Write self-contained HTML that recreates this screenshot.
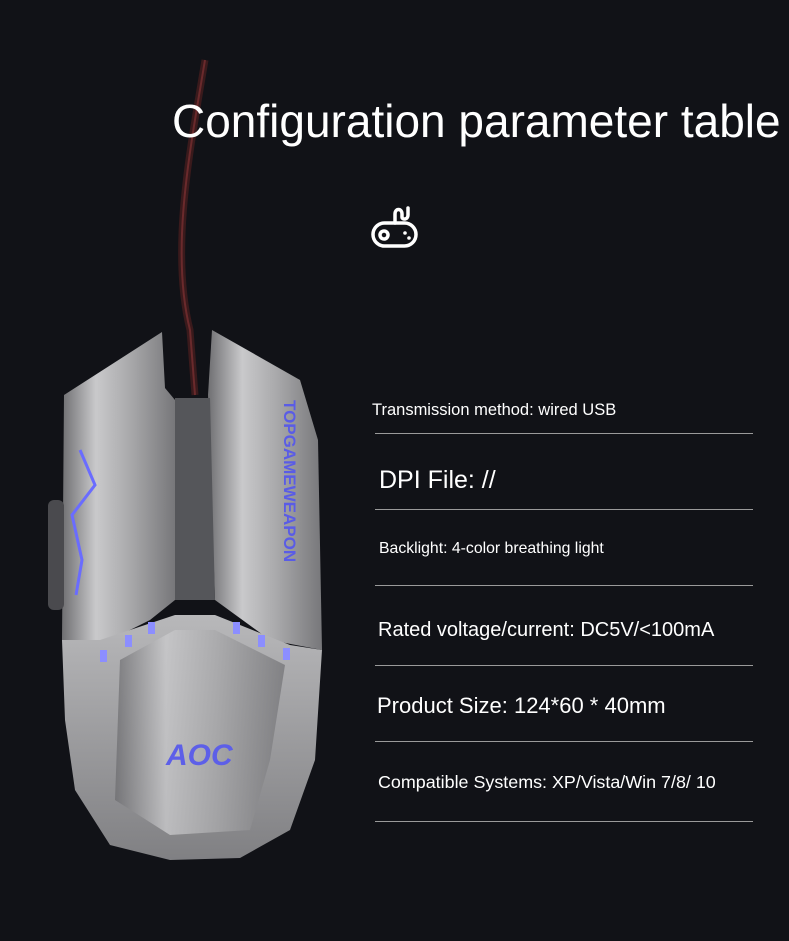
<!DOCTYPE html>
<html><head><meta charset="utf-8"><style>
body{margin:0;width:789px;height:941px;background:#111217;overflow:hidden;position:relative;font-family:"Liberation Sans",sans-serif;color:#fff}
.t{position:absolute;white-space:nowrap;line-height:1}
.l{position:absolute;left:375px;width:378px;height:1px;background:#9a9a9a}
</style></head><body>
<svg width="789" height="941" style="position:absolute;left:0;top:0">
<defs>
<linearGradient id="g" x1="0" y1="0" x2="1" y2="0">
<stop offset="0" stop-color="#6f6f72"/><stop offset="0.3" stop-color="#c9c9cb"/><stop offset="0.6" stop-color="#a9a9ab"/><stop offset="1" stop-color="#77777a"/></linearGradient>
<linearGradient id="g2" x1="0" y1="0" x2="0" y2="1">
<stop offset="0" stop-color="#b8b8ba"/><stop offset="1" stop-color="#808083"/></linearGradient>
</defs>
<path d="M205 60 C190 150 170 250 190 330 L195 395" stroke="#3a1a1c" stroke-width="7" fill="none"/>
<path d="M205 60 C190 150 170 250 190 330 L195 395" stroke="#6a2a2c" stroke-width="2" fill="none"/>
<path d="M64 395 L162 332 L165 388 L175 400 L175 600 L150 620 L90 650 L62 640 Z" fill="url(#g)"/>
<path d="M212 330 L300 380 L318 440 L322 650 L270 640 L215 600 L208 395 Z" fill="url(#g)"/>
<path d="M175 398 L210 398 L215 600 L175 600 Z" fill="#55565a"/>
<path d="M62 640 L100 640 L175 615 L215 615 L290 645 L322 650 L315 760 L290 830 L240 858 L170 860 L110 845 L75 790 L65 720 Z" fill="url(#g2)"/>
<path d="M120 660 L175 630 L215 630 L285 665 L270 760 L250 830 L170 835 L115 800 Z" fill="url(#g)" opacity="0.8"/>
<rect x="48" y="500" width="16" height="110" rx="6" fill="#4a4a4e"/>
<path d="M80 450 L95 485 L72 515 L82 560 L76 595" stroke="#6a6cff" stroke-width="3" fill="none"/>
<text x="166" y="765" font-size="30" font-weight="bold" fill="#5d5fe8" font-style="italic" font-family="Liberation Sans">AOC</text>
<text transform="translate(284,400) rotate(90)" font-size="17" font-weight="bold" fill="#5a5ce6" font-family="Liberation Sans">TOPGAMEWEAPON</text>
<g fill="#8c8eff"><rect x="100" y="650" width="7" height="12"/><rect x="125" y="635" width="7" height="12"/><rect x="148" y="622" width="7" height="12"/><rect x="233" y="622" width="7" height="12"/><rect x="258" y="635" width="7" height="12"/><rect x="283" y="648" width="7" height="12"/></g>
<g fill="none" stroke="#fff" stroke-width="3.5" stroke-linecap="round">
<rect x="373" y="223" width="43" height="23" rx="11.5"/>
<path d="M395 223 V214 C395 208 402 208 402 214 V217 C402 220 408 220 408 215 V208"/>
<circle cx="384" cy="235" r="4"/>
</g>
<circle cx="405" cy="233" r="1.8" fill="#fff"/><circle cx="409" cy="238" r="1.8" fill="#fff"/>
</svg>
<div class="t" style="left:172px;top:98px;font-size:46px">Configuration parameter table</div>
<div class="t" style="left:372px;top:402px;font-size:16.5px">Transmission method: wired USB</div>
<div class="l" style="top:433px"></div>
<div class="t" style="left:379px;top:468px;font-size:25px">DPI File: //</div>
<div class="l" style="top:509px"></div>
<div class="t" style="left:379px;top:541px;font-size:15.8px">Backlight: 4-color breathing light</div>
<div class="l" style="top:585px"></div>
<div class="t" style="left:378px;top:620px;font-size:20px">Rated voltage/current: DC5V/&lt;100mA</div>
<div class="l" style="top:665px"></div>
<div class="t" style="left:377px;top:695px;font-size:22px">Product Size: 124*60 * 40mm</div>
<div class="l" style="top:741px"></div>
<div class="t" style="left:378px;top:774px;font-size:17.9px">Compatible Systems: XP/Vista/Win 7/8/ 10</div>
<div class="l" style="top:821px"></div>
</body></html>
